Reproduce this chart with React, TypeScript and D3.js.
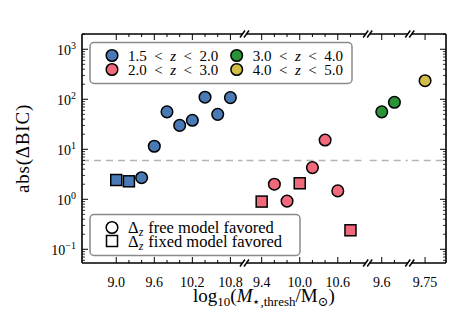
import * as d3 from 'd3';

// broken x axis: one segment per redshift bin
const segDomains: [number, number][] = [
  [8.46, 10.99],
  [9.16, 11.04],
  [9.41, 10.01],
  [9.54, 10.08],
];
const segMajor = [
  [9.0, 9.6, 10.2, 10.8],
  [9.4, 10.0, 10.6],
  [9.6],
  [9.75],
];
const segMinor = [
  [9.2, 9.4, 9.8, 10.0, 10.4, 10.6],
  [9.6, 9.8, 10.2, 10.4, 10.8],
  [9.8],
  [],
];
const segLabels = [
  ['9.0', '9.6', '10.2', '10.8'],
  ['9.4', '10.0', '10.6'],
  ['9.6'],
  ['9.75'],
];

const yMajor = [0.1, 1, 10, 100, 1000];
const yExp = ['−1', '0', '1', '2', '3'];

const binNames = ['1.5', '2.0', '3.0', '4.0'];
const binUpper = ['2.0', '3.0', '4.0', '5.0'];
const binColors = ['#4a7ab6', '#f06a7c', '#2a9338', '#d2bd48'];

// circles: delta_z free model favored, squares: delta_z fixed model favored
const freeX = [
  [9.4, 9.6, 9.8, 10.0, 10.2, 10.4, 10.6, 10.8],
  [9.6, 9.8, 10.2, 10.4, 10.6],
  [9.6, 9.8],
  [9.75],
];
const freeY = [
  [2.7, 11.5, 56, 30, 38, 110, 50, 108],
  [2.0, 0.92, 4.3, 15.3, 1.47],
  [56, 87],
  [235],
];
const fixedX = [[9.0, 9.2], [9.4, 10.0, 10.8], [], []];
const fixedY = [[2.43, 2.29], [0.9, 2.09, 0.24], [], []];

const threshold = 6;

const W = 470, H = 310;
const left = 82, right = 446, top = 34, bottom = 263;
const gap = 4;
const font = '"Liberation Serif", "DejaVu Serif", serif';

export default function App() {
  const span = d3.sum(segDomains, d => d[1] - d[0]);
  const pxPer = (right - left - gap * (segDomains.length - 1)) / span;
  let cur = left;
  const xs = segDomains.map(d => {
    const r0 = cur;
    const r1 = cur + (d[1] - d[0]) * pxPer;
    cur = r1 + gap;
    return d3.scaleLinear().domain(d).range([r0, r1]);
  });
  const y = d3.scaleLog().domain([0.0532, 2020]).range([bottom, top]);

  const yMinor: number[] = [];
  for (let e = -2; e <= 3; e++) {
    for (let m = 2; m <= 9; m++) {
      const v = m * Math.pow(10, e);
      if (v > 0.0532 && v < 2020) yMinor.push(v);
    }
  }

  const slash = (x: number, yy: number, k: string) => (
    <line key={k} x1={x - 2.5} y1={yy + 3.5} x2={x + 2.5} y2={yy - 3.5} stroke="#000" strokeWidth={1.5} />
  );

  return (
    <svg width={W} height={H} style={{ position: 'absolute', left: 0, top: 0, fontFamily: font }}>
      <rect width={W} height={H} fill="#fff" />

      {/* threshold line */}
      {xs.map((x, i) => (
        <line key={`th${i}`} x1={x.range()[0]} x2={x.range()[1]} y1={y(threshold)} y2={y(threshold)}
          stroke="#b4b4b4" strokeWidth={1.5} strokeDasharray="7,5" />
      ))}

      {/* spines */}
      <line x1={left} x2={left} y1={top} y2={bottom} stroke="#000" strokeWidth={1.6} />
      <line x1={right} x2={right} y1={top} y2={bottom} stroke="#000" strokeWidth={1.6} />
      {xs.map((x, i) => (
        <g key={`sp${i}`}>
          <line x1={x.range()[0]} x2={x.range()[1]} y1={top} y2={top} stroke="#000" strokeWidth={1.6} />
          <line x1={x.range()[0]} x2={x.range()[1]} y1={bottom} y2={bottom} stroke="#000" strokeWidth={1.6} />
          {i > 0 && [slash(x.range()[0], top, 'a'), slash(x.range()[0], bottom, 'b')]}
          {i < xs.length - 1 && [slash(x.range()[1], top, 'c'), slash(x.range()[1], bottom, 'd')]}
          {segMajor[i].map(t => (
            <g key={`M${t}`}>
              <line x1={x(t)} x2={x(t)} y1={top} y2={top + 6} stroke="#000" strokeWidth={1} />
              <line x1={x(t)} x2={x(t)} y1={bottom} y2={bottom - 6} stroke="#000" strokeWidth={1} />
            </g>
          ))}
          {segMinor[i].map(t => (
            <g key={`m${t}`}>
              <line x1={x(t)} x2={x(t)} y1={top} y2={top + 3} stroke="#000" strokeWidth={1} />
              <line x1={x(t)} x2={x(t)} y1={bottom} y2={bottom - 3} stroke="#000" strokeWidth={1} />
            </g>
          ))}
          {segMajor[i].map((t, j) => (
            <text key={`l${t}`} x={x(t)} y={287} textAnchor="middle" fontSize={14}>{segLabels[i][j]}</text>
          ))}
        </g>
      ))}

      {/* y ticks */}
      {yMajor.map((v, i) => (
        <g key={`y${v}`}>
          <line x1={left} x2={left + 6} y1={y(v)} y2={y(v)} stroke="#000" strokeWidth={1} />
          <line x1={right} x2={right - 6} y1={y(v)} y2={y(v)} stroke="#000" strokeWidth={1} />
          <text x={76} y={y(v) + 5.5} textAnchor="end" fontSize={14}>
            10<tspan dy={-6} fontSize={10}>{yExp[i]}</tspan>
          </text>
        </g>
      ))}
      {yMinor.map(v => (
        <g key={`ym${v}`}>
          <line x1={left} x2={left + 3} y1={y(v)} y2={y(v)} stroke="#000" strokeWidth={0.8} />
          <line x1={right} x2={right - 3} y1={y(v)} y2={y(v)} stroke="#000" strokeWidth={0.8} />
        </g>
      ))}

      {/* points */}
      {xs.map((x, i) => (
        <g key={`pts${i}`}>
          {fixedX[i].map((v, j) => (
            <rect key={`s${j}`} x={x(v) - 5.5} y={y(fixedY[i][j]) - 5.5} width={11} height={11}
              fill={binColors[i]} stroke="#000" strokeWidth={1.5} />
          ))}
          {freeX[i].map((v, j) => (
            <circle key={`c${j}`} cx={x(v)} cy={y(freeY[i][j])} r={5.8}
              fill={binColors[i]} stroke="#000" strokeWidth={1.5} />
          ))}
        </g>
      ))}

      {/* redshift legend */}
      <rect x={90} y={42.5} width={262} height={41} rx={4} fill="#fff" stroke="#8a8a8a" strokeWidth={1.5} />
      {binNames.map((b, i) => {
        const ly = i % 2 === 0 ? 55.5 : 69.5;
        const lx = i < 2 ? 112 : 236.7;
        return (
          <g key={`lg${i}`}>
            <circle cx={lx} cy={ly} r={5.8} fill={binColors[i]} stroke="#000" strokeWidth={1.5} />
            <text x={lx + 16} y={ly + 5} fontSize={15}>
              {b}<tspan dx={7.5}>&lt;</tspan><tspan dx={7.5} fontStyle="italic">z</tspan>
              <tspan dx={7.5}>&lt;</tspan><tspan dx={7.5}>{binUpper[i]}</tspan>
            </text>
          </g>
        );
      })}

      {/* marker legend */}
      <rect x={90} y={214.5} width={210} height={41} rx={4} fill="#fff" stroke="#8a8a8a" strokeWidth={1.5} />
      <circle cx={112} cy={227.5} r={5.8} fill="#fff" stroke="#000" strokeWidth={1.5} />
      <rect x={106.5} y={235.5} width={11} height={11} fill="#fff" stroke="#000" strokeWidth={1.5} />
      <text x={128} y={232.5} fontSize={16.5}>
        Δ<tspan dy={3} fontSize={12} fontStyle="italic">z</tspan><tspan dy={-3} dx={5}>free model favored</tspan>
      </text>
      <text x={128} y={246.5} fontSize={16.5}>
        Δ<tspan dy={3} fontSize={12} fontStyle="italic">z</tspan><tspan dy={-3} dx={5}>fixed model favored</tspan>
      </text>

      {/* axis labels */}
      <text transform={`translate(29,${(top + bottom) / 2}) rotate(-90)`} textAnchor="middle" fontSize={19}
        letterSpacing={0.8}>
        abs(ΔBIC)
      </text>
      <text x={264} y={302} textAnchor="middle" fontSize={19}>
        log<tspan dy={4} fontSize={13}>10</tspan><tspan dy={-4}>(</tspan><tspan fontStyle="italic">M</tspan>
        <tspan dy={4} fontSize={13}>⋆,thresh</tspan><tspan dy={-4}>/M</tspan>
        <tspan dy={4} fontSize={13}>⊙</tspan><tspan dy={-4}>)</tspan>
      </text>
    </svg>
  );
}
